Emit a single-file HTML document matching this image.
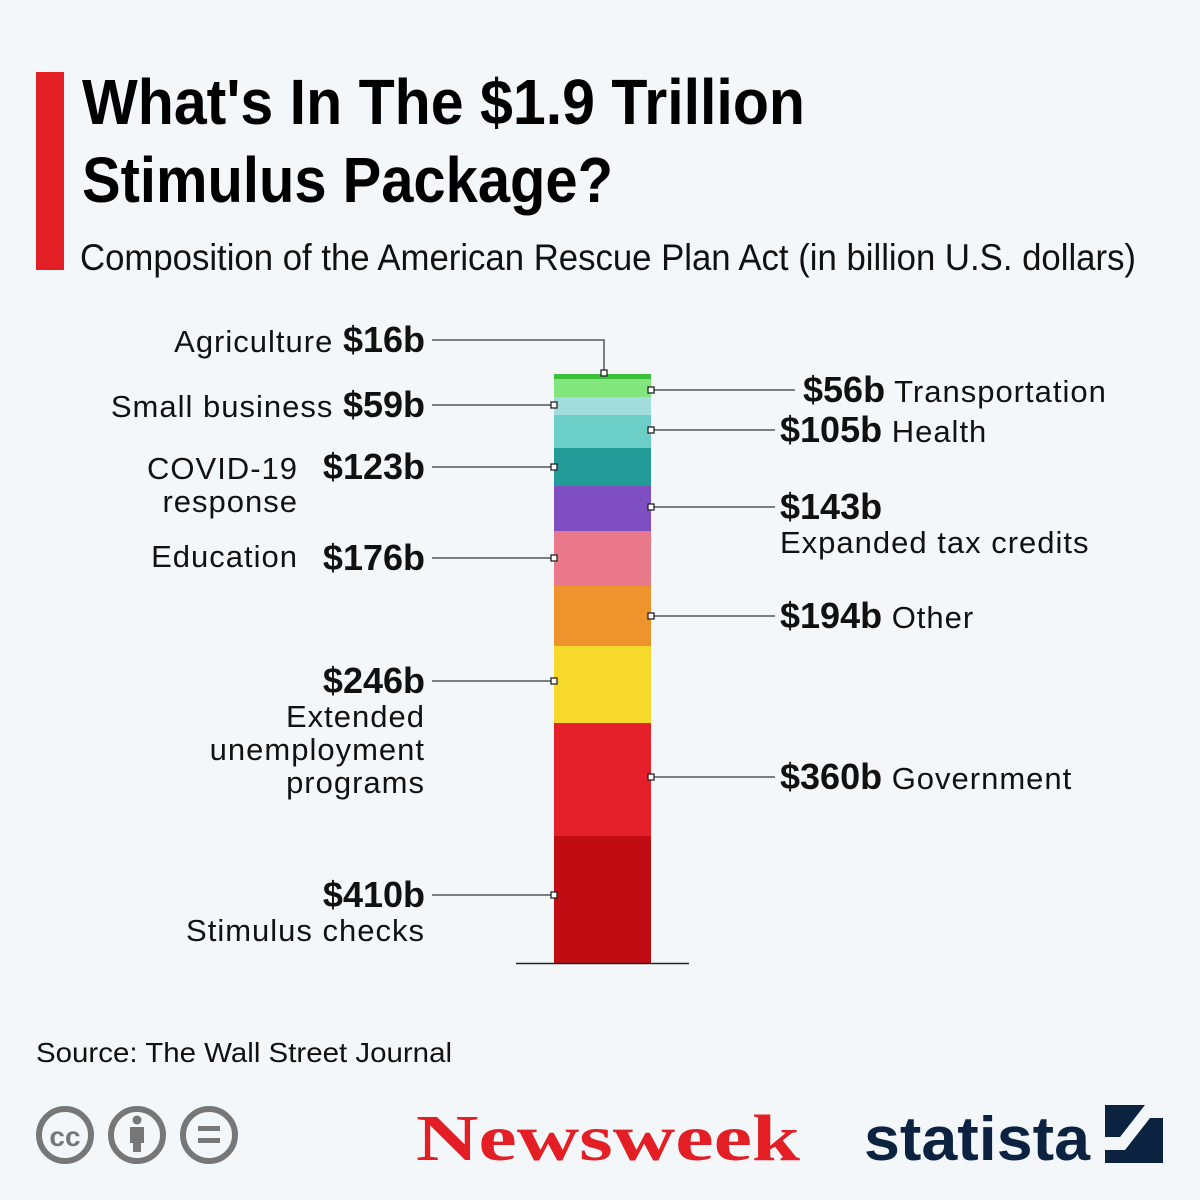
<!DOCTYPE html>
<html><head><meta charset="utf-8"><style>body{margin:0;background:#f4f7fa}svg{display:block}</style></head><body>
<svg width="1200" height="1200" viewBox="0 0 1200 1200" xmlns="http://www.w3.org/2000/svg" font-family="Liberation Sans, Arial, sans-serif">
<rect width="1200" height="1200" fill="#f4f7fa"/>
<rect x="36" y="72" width="28" height="198" fill="#e31e24"/>
<text x="82" y="124" font-size="64" font-weight="bold" fill="#000" textLength="723" lengthAdjust="spacingAndGlyphs">What's In The $1.9 Trillion</text>
<text x="82" y="202" font-size="64" font-weight="bold" fill="#000" textLength="531" lengthAdjust="spacingAndGlyphs">Stimulus Package?</text>
<text x="80" y="270" font-size="37" fill="#111" textLength="1056" lengthAdjust="spacingAndGlyphs">Composition of the American Rescue Plan Act (in billion U.S. dollars)</text>
<rect x="554" y="374" width="97" height="5" fill="#3cbf3c"/>
<rect x="554" y="379" width="97" height="18" fill="#82e67c"/>
<rect x="554" y="397" width="97" height="18" fill="#a3dcdc"/>
<rect x="554" y="415" width="97" height="33" fill="#6ccfc7"/>
<rect x="554" y="448" width="97" height="38" fill="#229a98"/>
<rect x="554" y="486" width="97" height="45" fill="#7f4ec0"/>
<rect x="554" y="531" width="97" height="55" fill="#e8788a"/>
<rect x="554" y="586" width="97" height="60" fill="#ef932d"/>
<rect x="554" y="646" width="97" height="77" fill="#f6d92a"/>
<rect x="554" y="723" width="97" height="113" fill="#e6202a"/>
<rect x="554" y="836" width="97" height="127" fill="#c00c12"/>
<line x1="516" y1="963.5" x2="689" y2="963.5" stroke="#222" stroke-width="1.5"/>
<g stroke="#555" stroke-width="1.5" fill="none">
<polyline points="432,340 604,340 604,373"/>
<line x1="432" y1="405" x2="554" y2="405"/>
<line x1="432" y1="467" x2="554" y2="467"/>
<line x1="432" y1="558" x2="554" y2="558"/>
<line x1="432" y1="681" x2="554" y2="681"/>
<line x1="432" y1="895" x2="554" y2="895"/>
<line x1="651" y1="390" x2="795" y2="390"/>
<line x1="651" y1="430" x2="775" y2="430"/>
<line x1="651" y1="507" x2="775" y2="507"/>
<line x1="651" y1="616" x2="775" y2="616"/>
<line x1="651" y1="777" x2="775" y2="777"/>
</g>
<g fill="#fff" stroke="#222" stroke-width="1.3">
<rect x="601" y="370" width="6" height="6"/>
<rect x="551" y="402" width="6" height="6"/>
<rect x="551" y="464" width="6" height="6"/>
<rect x="551" y="555" width="6" height="6"/>
<rect x="551" y="678" width="6" height="6"/>
<rect x="551" y="892" width="6" height="6"/>
<rect x="648" y="387" width="6" height="6"/>
<rect x="648" y="427" width="6" height="6"/>
<rect x="648" y="504" width="6" height="6"/>
<rect x="648" y="613" width="6" height="6"/>
<rect x="648" y="774" width="6" height="6"/>
</g>
<g font-size="31" fill="#111" text-anchor="end" letter-spacing="1">
<text x="425" y="352"><tspan>Agriculture </tspan><tspan font-weight="bold" font-size="36" letter-spacing="0">$16b</tspan></text>
<text x="425" y="417"><tspan>Small business </tspan><tspan font-weight="bold" font-size="36" letter-spacing="0">$59b</tspan></text>
<text x="425" y="479" font-weight="bold" font-size="36" letter-spacing="0">$123b</text>
<text x="298" y="479">COVID-19</text>
<text x="298" y="512">response</text>
<text x="425" y="570" font-weight="bold" font-size="36" letter-spacing="0">$176b</text>
<text x="298" y="567">Education</text>
<text x="425" y="693" font-weight="bold" font-size="36" letter-spacing="0">$246b</text>
<text x="425" y="727">Extended</text>
<text x="425" y="760">unemployment</text>
<text x="425" y="793">programs</text>
<text x="425" y="907" font-weight="bold" font-size="36" letter-spacing="0">$410b</text>
<text x="425" y="941">Stimulus checks</text>
</g>
<g font-size="31" fill="#111" letter-spacing="1">
<text x="803" y="402"><tspan font-weight="bold" font-size="36" letter-spacing="0">$56b</tspan><tspan> Transportation</tspan></text>
<text x="780" y="442"><tspan font-weight="bold" font-size="36" letter-spacing="0">$105b</tspan><tspan> Health</tspan></text>
<text x="780" y="519" font-weight="bold" font-size="36" letter-spacing="0">$143b</text>
<text x="780" y="553">Expanded tax credits</text>
<text x="780" y="628"><tspan font-weight="bold" font-size="36" letter-spacing="0">$194b</tspan><tspan> Other</tspan></text>
<text x="780" y="789"><tspan font-weight="bold" font-size="36" letter-spacing="0">$360b</tspan><tspan> Government</tspan></text>
</g>
<text x="36" y="1062" font-size="28" fill="#111" textLength="416" lengthAdjust="spacingAndGlyphs">Source: The Wall Street Journal</text>
<g stroke="#777" stroke-width="6" fill="none">
<circle cx="65" cy="1135" r="26"/><circle cx="137" cy="1135" r="26"/><circle cx="209" cy="1135" r="26"/>
</g>
<text x="65" y="1146" font-size="28" font-weight="bold" fill="#777" text-anchor="middle">cc</text>
<circle cx="137" cy="1120" r="4.5" fill="#777"/>
<rect x="130" y="1127" width="14" height="16" fill="#777"/><rect x="133" y="1140" width="8" height="12" fill="#777"/>
<rect x="198" y="1126" width="22" height="5" fill="#777"/><rect x="198" y="1138" width="22" height="5" fill="#777"/>
<text x="416" y="1160" font-family="Liberation Serif, serif" font-size="66" font-weight="bold" fill="#e31e24" textLength="384" lengthAdjust="spacingAndGlyphs">Newsweek</text>
<text x="864" y="1160" font-size="62" font-weight="bold" fill="#0b2340" textLength="226" lengthAdjust="spacingAndGlyphs">statista</text>
<path d="M1105 1105 H1163 V1163 H1105 Z" fill="#0b2340"/>
<path d="M1105 1150 L1125 1150 L1150 1118 L1163 1118 L1163 1105 L1145 1105 L1120 1137 L1105 1137 Z" fill="#f4f7fa"/>
</svg>
</body></html>
